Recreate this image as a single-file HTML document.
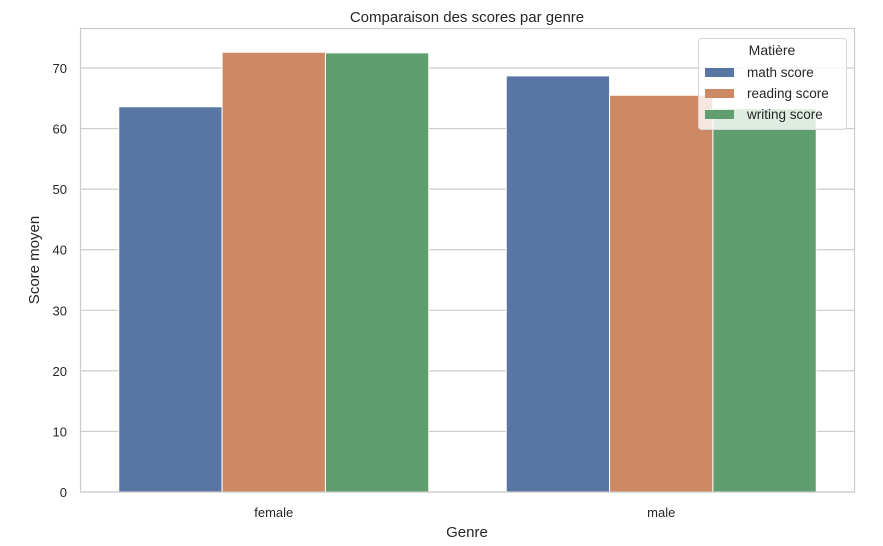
<!DOCTYPE html>
<html><head><meta charset="utf-8"><style>
body{margin:0;background:#fff;font-family:"Liberation Sans","DejaVu Sans",sans-serif;}
svg text{font-family:"Liberation Sans","DejaVu Sans",sans-serif;fill:#262626;}
</style></head><body>
<svg id="chart" width="883" height="541" viewBox="0 0 883 541">
<rect x="0" y="0" width="883" height="541" fill="#fff"/>
<text x="467" y="22" font-size="15" text-anchor="middle">Comparaison des scores par genre</text>
<g id="grid"></g>
<g id="bars"></g>
<rect x="80.5" y="28.5" width="774" height="463.5" fill="none" stroke="#cccccc" stroke-width="1.2"/>
<g id="ticks"></g>
<text transform="translate(39,260) rotate(-90)" font-size="15" text-anchor="middle">Score moyen</text>
<text x="467" y="537" font-size="15" text-anchor="middle">Genre</text>
<g>
<rect x="698.5" y="38.5" width="148" height="91" rx="3" fill="#fff" fill-opacity="0.8" stroke="#d6d6d6"/>
<text x="772" y="55" font-size="14" text-anchor="middle">Matière</text>
<g id="legend-items"></g>
</g>
</svg>
<script>
const categories=["female","male"];
const seriesNames=["math score","reading score","writing score"];
const mathScores=[63.6,68.7];
const readingScores=[72.6,65.5];
const writingScores=[72.5,63.3];
const yTicks=[0,10,20,30,40,50,60,70];
const colors=["#5975a4","#cc8963","#5f9e6e"];
const NS="http://www.w3.org/2000/svg";
const L=80,R=855,T=28,B=492;
const y=v=>B-v*6.057;
const band=(R-L)/categories.length;
const x=i=>L+band*(i+0.5);
const bw=band*0.8/3;
function mk(tag,attrs,parent){const e=document.createElementNS(NS,tag);for(const k in attrs)e.setAttribute(k,attrs[k]);parent.appendChild(e);return e;}
const grid=document.getElementById('grid'),ticks=document.getElementById('ticks'),bars=document.getElementById('bars');
yTicks.forEach(t=>{
 const g=mk('line',{x1:L,x2:R,y1:y(t),y2:y(t),stroke:'#cccccc','stroke-width':1.2},grid);
 
 
 const tx=mk('text',{x:L-13,y:y(t)+5,'font-size':13,'text-anchor':'end'},ticks);
 tx.textContent=t;
 
 
});
categories.forEach((c,i)=>{
 const tx=mk('text',{x:x(i),y:B+25,'font-size':13,'text-anchor':'middle'},ticks);
 tx.textContent=c;
 
 
});
const series=[mathScores,readingScores,writingScores];
series.forEach((vals,s)=>{
 vals.forEach((v,i)=>{
  const x0=x(i)-1.5*bw+s*bw;
  const r=mk('rect',{x:x0,y:y(v),width:bw,height:B-y(v),fill:colors[s],stroke:'#fff','stroke-width':1},bars);
  
  
 });
});
const li=document.getElementById('legend-items');
seriesNames.forEach((n,s)=>{
 const yy=72+s*21;
 const p=mk('rect',{x:705,y:yy-4,width:29,height:9,fill:colors[s]},li);
 
 
 const t=mk('text',{x:747,y:yy+5,'font-size':13.5},li);
 t.textContent=n;
 
 
});
</script>
</body></html>
